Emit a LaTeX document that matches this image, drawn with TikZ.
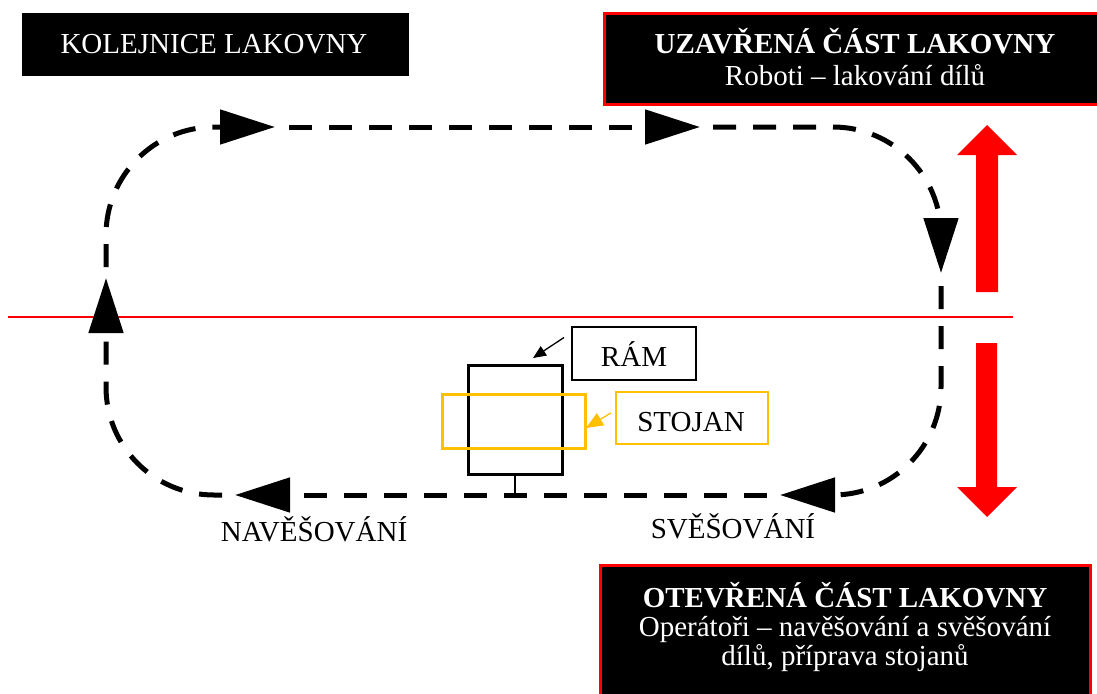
\documentclass[tikz,border=0pt]{standalone}
\usepackage{fontspec}
\setmainfont{Liberation Serif}
\usetikzlibrary{arrows.meta,calc}
\definecolor{lakred}{HTML}{FF0000}
\definecolor{lakyellow}{HTML}{FFC000}

\begin{document}
\begin{tikzpicture}[x=1pt,y=-1pt,
  txt/.style={font=\fontsize{29}{33}\selectfont, inner sep=0pt, anchor=base},
  btxt/.style={txt, font=\fontsize{29}{33}\selectfont\bfseries},
  wtxt/.style={txt, text=white},
  wbtxt/.style={btxt, text=white},
  panel/.style={draw=lakred, line width=3pt, fill=black, inner sep=0pt},
  track/.style={line width=5pt, dash pattern=on 23pt off 17pt,
    rounded corners=108pt, -{Triangle[length=55pt,width=34pt]}},
  pointer/.style={line width=1.3pt, -{Triangle[length=13pt,width=11pt]}},
]
\useasboundingbox (0,0) rectangle (1097,693);

% area boundary
\draw[lakred, line width=1.6pt] (8,317) -- (1013,317);

% title boxes
\node[fill=black, inner sep=0pt, minimum width=387pt, minimum height=62pt]
  (rail) at (215.5,44.5) {};
\node[wtxt] (railt) at (214,53) {KOLEJNICE LAKOVNY};

\node[panel, minimum width=494pt, minimum height=90pt] (closed) at (851,59) {};
\node[wbtxt] (closedt) at (855,53) {UZAVŘENÁ ČÁST LAKOVNY};
\node[wtxt] (closeds) at (855,85) {Roboti – lakování dílů};

\node[panel, minimum width=490pt, minimum height=140pt] (open) at (845,635) {};
\node[wbtxt] (opent) at (845,607) {OTEVŘENÁ ČÁST LAKOVNY};
\node[wtxt] (opens1) at (845,636) {Operátoři – navěšování a svěšování};
\node[wtxt] (opens2) at (845,665) {dílů, příprava stojanů};

% rail loop
\coordinate (l1) at (106,267);
\coordinate (t1) at (275,127);
\coordinate (t2s) at (289,127);
\coordinate (t2) at (700,127);
\coordinate (t3s) at (713,127);
\coordinate (r1) at (941,273);
\coordinate (r2s) at (941,286);
\coordinate (b1) at (780,495);
\coordinate (b2s) at (767,495);
\coordinate (b2) at (235,495);
\coordinate (b3s) at (222,495);
\coordinate (l2) at (106,278);
\draw[track] (l1) |- (t1);
\draw[track] (t2s) -- (t2);
\draw[track] (t3s) -| (r1);
\draw[track] (r2s) |- (b1);
\draw[track] (b2s) -- (b2);
\draw[track] (b3s) -| (l2);

% frame and stand
\node[draw, line width=3pt, minimum width=94pt, minimum height=109pt, inner sep=0pt]
  (frame) at (515,419.5) {};
\node[draw=lakyellow, line width=3pt, minimum width=143pt, minimum height=54pt, inner sep=0pt]
  (stand) at (513.5,421) {};
\coordinate (hook) at ($(frame.south)+(0,22)$);
\draw[line width=2.5pt] (frame.south) -- (hook);

% labels
\node[draw, line width=2pt, minimum width=124pt, minimum height=53pt, inner sep=0pt]
  (ramlbl) at (634,353.5) {};
\node[txt] (ramt) at (634,366) {RÁM};
\node[draw=lakyellow, line width=2.5pt, minimum width=152pt, minimum height=52pt, inner sep=0pt]
  (stlbl) at (692,418) {};
\node[txt] (stt) at (691,431) {STOJAN};

\coordinate (rampt) at (533,358);
\draw[pointer] ($(ramlbl.west)+(-7,-16)$) -- (rampt);
\coordinate (stpt) at (586,428);
\draw[pointer, draw=lakyellow, fill=lakyellow, line width=1.3pt,
  -{Triangle[length=17pt,width=14pt]}] ($(stlbl.west)+(-4,-5)$) -- (stpt);

\node[txt] (hang) at (314,541) {NAVĚŠOVÁNÍ};
\node[txt] (unhang) at (733,538) {SVĚŠOVÁNÍ};

% door movement arrows
\fill[lakred] (976,292) -- (976,155) -- (957,155) -- (987,125) -- (1017,155)
  -- (998,155) -- (998,292) -- cycle;
\fill[lakred] (976,343) -- (976,487) -- (957,487) -- (987,517) -- (1017,487)
  -- (997,487) -- (997,343) -- cycle;
\end{tikzpicture}
\end{document}
